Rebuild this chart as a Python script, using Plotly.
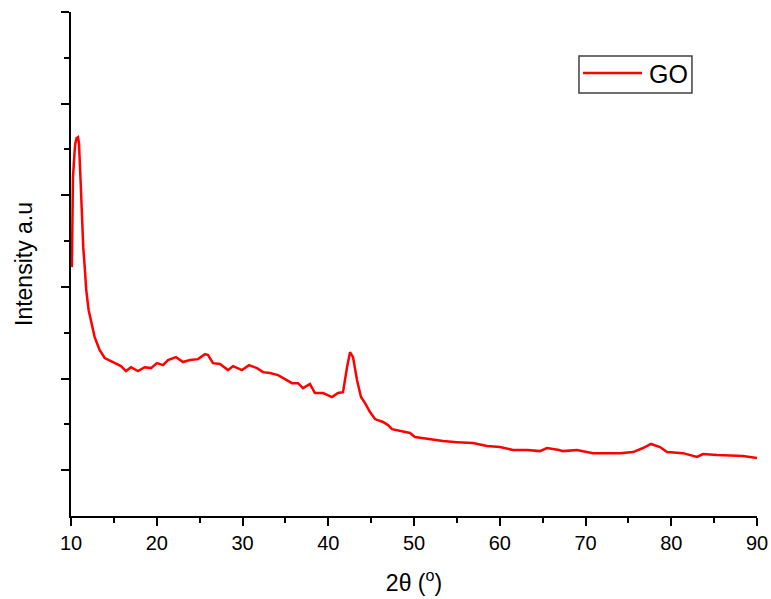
import plotly.graph_objects as go

# XRD pattern of GO
two_theta = [10.1, 10.15, 10.23, 10.47, 10.64, 10.82, 10.93, 11.13, 11.28, 11.43, 11.6, 11.78,
             12.06, 12.37, 12.76, 13.35, 13.93, 14.66, 15.83, 16.41, 17.0, 17.81, 18.59, 19.33,
             20.03, 20.73, 21.31, 22.24, 23.06, 23.88, 24.43, 24.81, 25.63, 25.98, 26.56, 27.38,
             28.31, 28.89, 29.94, 30.76, 31.69, 32.39, 33.21, 34.14, 34.96, 35.77, 36.47, 37.06,
             37.87, 38.45, 39.39, 40.44, 41.14, 41.72, 42.19, 42.54, 42.89, 43.35, 43.82, 44.29,
             44.87, 45.45, 46.38, 46.97, 47.43, 48.37, 49.53, 50.12, 51.87, 53.38, 55.01, 56.88,
             58.51, 60.03, 61.55, 63.18, 64.69, 65.51, 66.91, 67.38, 69.01, 70.87, 72.51, 74.02,
             75.54, 76.71, 77.64, 78.69, 79.51, 81.37, 83.0, 83.7, 85.34, 87.2, 88.37, 90.0]
intensity = [1358, 1669, 1848, 2023, 2061, 2067, 2034, 1816, 1625, 1467, 1358, 1232,
             1123, 1052, 976, 905, 862, 845, 818, 791, 812, 791, 812, 807,
             834, 823, 851, 867, 840, 851, 856, 856, 883, 878, 834, 829,
             796, 818, 796, 823, 807, 785, 780, 769, 747, 725, 725, 698,
             720, 671, 671, 649, 671, 676, 812, 894, 867, 742, 649, 616,
             567, 529, 513, 496, 474, 463, 453, 431, 420, 409, 403, 398,
             382, 376, 360, 360, 354, 371, 360, 354, 360, 343, 343, 343,
             349, 371, 393, 376, 349, 343, 322, 338, 333, 327, 327, 316]

x_ticks = [10, 20, 30, 40, 50, 60, 70, 80, 90]
y_major = [250, 750, 1250, 1750, 2250, 2750]
y_minor = [500, 1000, 1500, 2000, 2500]
series_name = "GO"

FONT = "Liberation Sans, Arial, sans-serif"

fig = go.Figure()
fig.add_trace(go.Scatter(x=two_theta, y=intensity, mode="lines", name=series_name,
                         line=dict(color="#ff0000", width=2.5), showlegend=False))

fig.update_layout(
    width=771, height=599,
    margin=dict(l=71, r=14, t=12, b=83),
    paper_bgcolor="white", plot_bgcolor="white",
    font=dict(family=FONT, color="black"),
    xaxis=dict(range=[10, 90], tickvals=x_ticks, ticktext=[str(v) for v in x_ticks],
               automargin=False,
               showline=True, linecolor="black", linewidth=2, mirror=False,
               ticks="outside", ticklen=8, tickwidth=2, tickcolor="black",
               minor=dict(dtick=5, tick0=0, ticks="outside", ticklen=5, tickwidth=2, tickcolor="black"),
               showgrid=False, zeroline=False,
               tickfont=dict(size=20, family=FONT, color="black"),
               title=dict(text="2θ (<sup>o</sup>)", font=dict(size=23, family=FONT), standoff=22)),
    yaxis=dict(range=[0, 2750], tickvals=y_major, showticklabels=False,
               automargin=False,
               showline=True, linecolor="black", linewidth=2, mirror=False,
               ticks="outside", ticklen=8, tickwidth=2, tickcolor="black",
               minor=dict(tickvals=y_minor, ticks="outside", ticklen=5, tickwidth=2, tickcolor="black"),
               showgrid=False, zeroline=False,
               title=dict(text="Intensity a.u", font=dict(size=23, family=FONT), standoff=22)),
)

# legend box drawn in paper coordinates
fig.add_shape(type="rect", xref="paper", yref="paper", x0=0.7405, x1=0.9052, y0=0.8393, y1=0.9127,
              line=dict(color="#404040", width=1.5), fillcolor="white", layer="above")
fig.add_shape(type="line", xref="paper", yref="paper", x0=0.7464, x1=0.8324, y0=0.879, y1=0.879,
              line=dict(color="#ff0000", width=2.5), layer="above")
fig.add_annotation(text=series_name, xref="paper", yref="paper", x=0.8397, y=0.877,
                   xanchor="left", yanchor="middle", showarrow=False,
                   font=dict(size=25, family=FONT, color="black"))

fig.write_html("out.html", config={"displayModeBar": False},
               post_script="document.body.style.margin='0px';")
